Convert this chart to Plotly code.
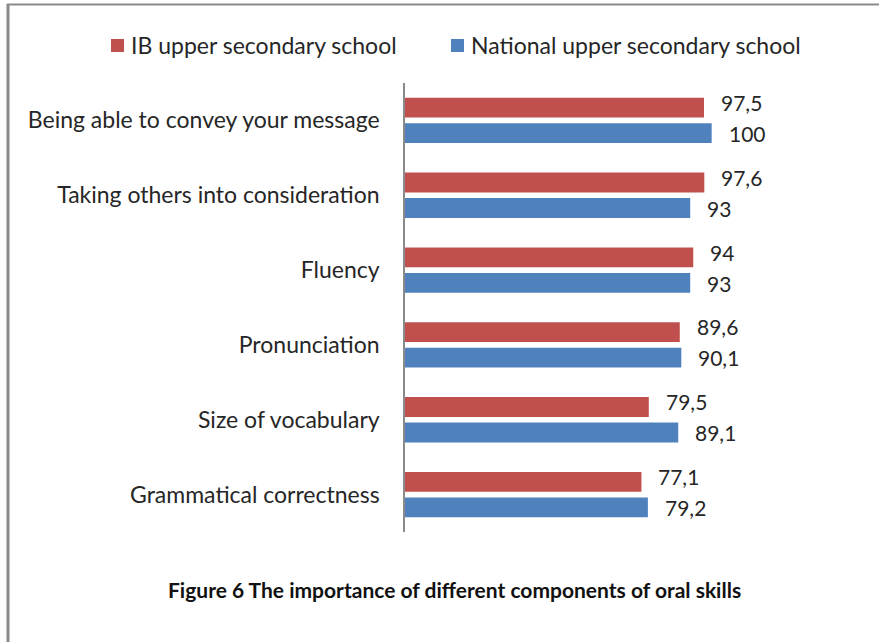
import plotly.graph_objects as go

categories = [
    "Being able to convey your message",
    "Taking others into consideration",
    "Fluency",
    "Pronunciation",
    "Size of vocabulary",
    "Grammatical correctness",
]
ib_values = [97.5, 97.6, 94, 89.6, 79.5, 77.1]
national_values = [100, 93, 93, 90.1, 89.1, 79.2]
series_names = ["IB upper secondary school", "National upper secondary school"]
caption = "Figure 6 The importance of different components of oral skills"

RED = "#C0504D"
BLUE = "#4F81BD"
TEXT = "#262626"
FRAME = "#8A8A8A"
FONT = "Lato"

W, H = 879, 642
L, R, T, B = 405, 106, 83, 110
pw, ph = W - L - R, H - T - B


def px_x(p):
    # pixel column -> paper x
    return (p - L) / pw


def px_y(p):
    # pixel row -> paper y
    return (H - B - p) / ph


def fmt(v):
    return f"{v:g}".replace(".", ",")


fig = go.Figure()
fig.add_trace(go.Bar(y=categories, x=ib_values, orientation="h", name=series_names[0],
                     marker=dict(color=RED, line=dict(width=0)), showlegend=False))
fig.add_trace(go.Bar(y=categories, x=national_values, orientation="h", name=series_names[1],
                     marker=dict(color=BLUE, line=dict(width=0)), showlegend=False))

annotations = []
for cat, v in zip(categories, ib_values):
    annotations.append(dict(x=v, y=cat, xref="x", yref="y", text=fmt(v), showarrow=False,
                            xanchor="left", yanchor="middle", xshift=15, yshift=18,
                            font=dict(family=FONT, size=21, color=TEXT)))
for cat, v in zip(categories, national_values):
    annotations.append(dict(x=v, y=cat, xref="x", yref="y", text=fmt(v), showarrow=False,
                            xanchor="left", yanchor="middle", xshift=15, yshift=-13,
                            font=dict(family=FONT, size=21, color=TEXT)))

# caption under the chart
annotations.append(dict(text=f"<b>{caption}</b>", xref="paper", yref="paper",
                        x=px_x(454), y=px_y(589), showarrow=False,
                        xanchor="center", yanchor="middle",
                        font=dict(family=FONT, size=21, color="#111111")))

shapes = [
    dict(type="line", xref="paper", yref="paper", x0=px_x(7), x1=px_x(W + 5),
         y0=px_y(4.5), y1=px_y(4.5), line=dict(color=FRAME, width=2)),
    dict(type="line", xref="paper", yref="paper", x0=px_x(8), x1=px_x(8),
         y0=px_y(4), y1=px_y(H + 5), line=dict(color=FRAME, width=3)),
]

# legend row: colour key squares with series names
legend_items = [(series_names[0], RED, 111, 131), (series_names[1], BLUE, 451, 471)]
for name, color, sq_x, tx_x in legend_items:
    shapes.append(dict(type="rect", xref="paper", yref="paper",
                       x0=px_x(sq_x), x1=px_x(sq_x + 13), y0=px_y(52), y1=px_y(39),
                       fillcolor=color, line=dict(width=0)))
    annotations.append(dict(text=name, xref="paper", yref="paper", x=px_x(tx_x), y=px_y(45),
                            xanchor="left", yanchor="middle", showarrow=False,
                            xshift=-2,
                            font=dict(family=FONT, size=23, color=TEXT)))

fig.update_layout(
    width=W, height=H,
    margin=dict(l=L, r=R, t=T, b=B, autoexpand=False),
    paper_bgcolor="white", plot_bgcolor="white",
    barmode="group", bargap=0.32, bargroupgap=0.22,
    font=dict(family=FONT, color=TEXT),
    xaxis=dict(range=[0, 120], visible=False, fixedrange=True),
    yaxis=dict(autorange="reversed", showline=True, linecolor=FRAME, linewidth=1.5,
               ticks="", showgrid=False, automargin=False,
               tickfont=dict(family=FONT, size=23, color=TEXT),
               ticklabelstandoff=19),
    showlegend=False,
    annotations=annotations,
    shapes=shapes,
)

fig.write_html("out.html")
